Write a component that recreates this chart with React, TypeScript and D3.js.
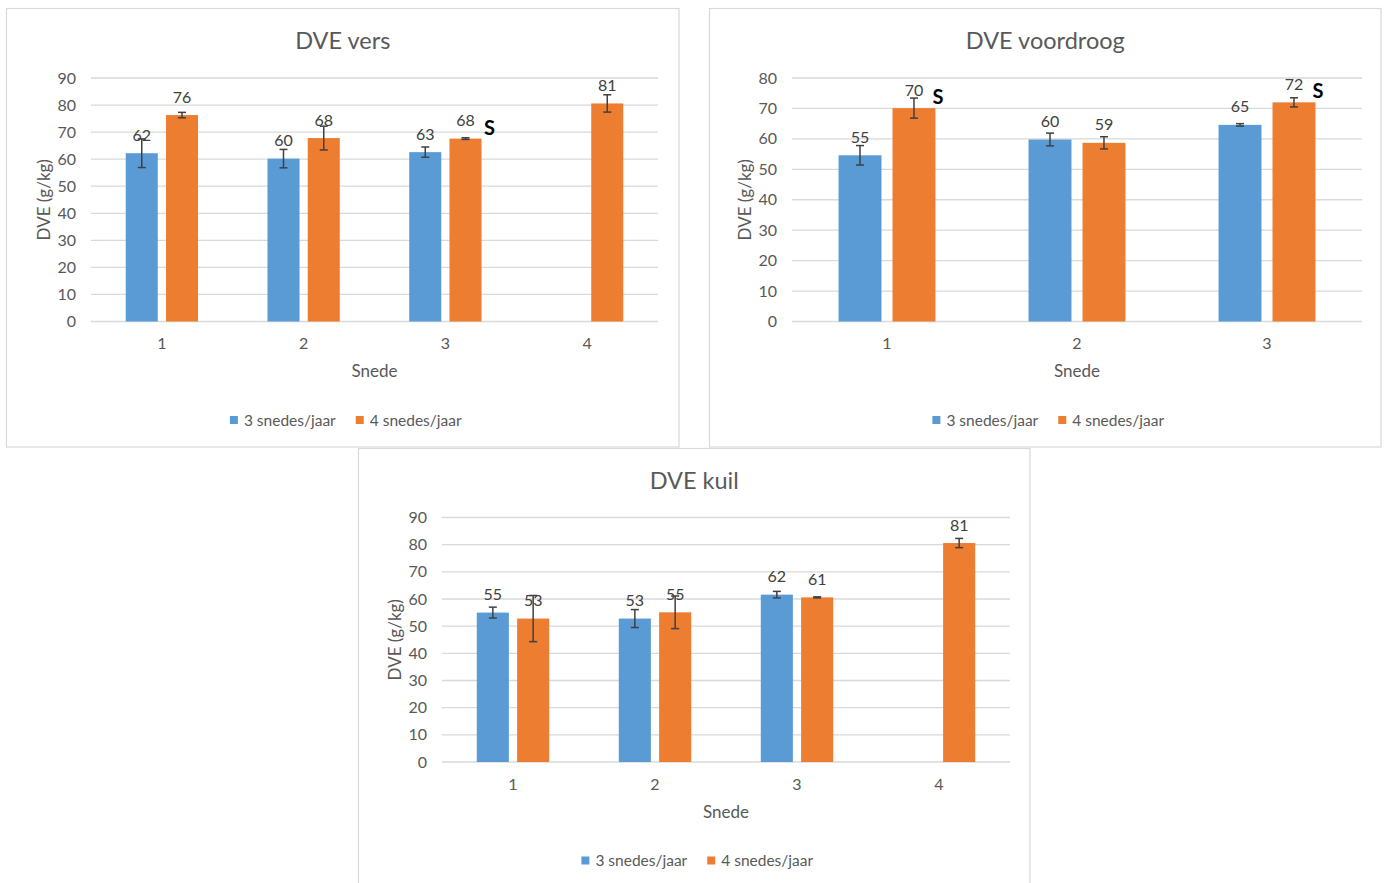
import { useEffect, useRef } from "react";
import * as d3 from "d3";

const BLUE   = "#5B9BD5";
const ORANGE = "#ED7D31";
const GRID   = "#D9D9D9";
const TICK   = "#595959";
const LABEL  = "#404040";
const FONT   = "Lato, 'Open Sans', sans-serif";

const snede4 = ["1", "2", "3", "4"];
const snede3 = ["1", "2", "3"];
const seriesNames = ["3 snedes/jaar", "4 snedes/jaar"];

const ticks90 = [0, 10, 20, 30, 40, 50, 60, 70, 80, 90];
const ticks80 = [0, 10, 20, 30, 40, 50, 60, 70, 80];

// DVE vers
const versDrie    = [62.2, 60.2, 62.6, null];
const versDrieErr = [5.3, 3.4, 1.9, null];
const versVier    = [76.3, 67.8, 67.6, 80.6];
const versVierErr = [1.0, 4.4, 0.3, 3.2];
const versSig     = [false, false, true, false];

// DVE voordroog
const voorDrie    = [54.6, 59.8, 64.6];
const voorDrieErr = [3.2, 2.1, 0.4];
const voorVier    = [70.1, 58.7, 72.0];
const voorVierErr = [3.3, 2.0, 1.5];
const voorSig     = [true, false, true];

// DVE kuil
const kuilDrie    = [55.0, 52.8, 61.6, null];
const kuilDrieErr = [2.0, 3.3, 1.2, null];
const kuilVier    = [52.8, 55.1, 60.6, 80.6];
const kuilVierErr = [8.5, 6.0, 0.2, 1.7];
const kuilSig     = [false, false, false, false];

interface PanelCfg {
  title: string;
  frame: [number, number, number, number]; // x0, y0, x1, y1
  plot: [number, number, number, number];  // x0, yTop, x1, yBottom
  cats: string[];
  ticks: number[];
  drie: (number | null)[];
  drieErr: (number | null)[];
  vier: (number | null)[];
  vierErr: (number | null)[];
  sig: boolean[];
}

const panels: PanelCfg[] = [
  {
    title: "DVE vers", frame: [6.5, 8.5, 679, 447], plot: [91, 78, 658, 321.5],
    cats: snede4, ticks: ticks90,
    drie: versDrie, drieErr: versDrieErr, vier: versVier, vierErr: versVierErr, sig: versSig,
  },
  {
    title: "DVE voordroog", frame: [709.5, 8.5, 1381, 447], plot: [792, 78, 1362, 321.5],
    cats: snede3, ticks: ticks80,
    drie: voorDrie, drieErr: voorDrieErr, vier: voorVier, vierErr: voorVierErr, sig: voorSig,
  },
  {
    title: "DVE kuil", frame: [358.5, 448.5, 1030, 900], plot: [442, 517.5, 1010, 762],
    cats: snede4, ticks: ticks90,
    drie: kuilDrie, drieErr: kuilDrieErr, vier: kuilVier, vierErr: kuilVierErr, sig: kuilSig,
  },
];

export default function App() {
  const svgRef = useRef<SVGSVGElement>(null);

  useEffect(() => {
    if (!svgRef.current) return;
    const svg = d3.select(svgRef.current);
    svg.selectAll("*").remove();

    const renderPanel = (cfg: PanelCfg) => {
      const [fx0, fy0, fx1, fy1] = cfg.frame;
      const [px0, pyT, px1, pyB] = cfg.plot;
      const g = svg.append("g");

      g.append("rect")
        .attr("x", fx0).attr("y", fy0).attr("width", fx1 - fx0).attr("height", fy1 - fy0)
        .attr("fill", "#fff").attr("stroke", GRID).attr("stroke-width", 1.2);

      const x = d3.scaleBand().domain(cfg.cats).range([px0, px1]);
      const y = d3.scaleLinear().domain([0, d3.max(cfg.ticks)!]).range([pyB, pyT]);
      const bw = x.bandwidth();
      const barW = bw * 0.226, gap = bw * 0.058;

      // Title
      g.append("text")
        .attr("x", (fx0 + fx1) / 2).attr("y", fy0 + 31)
        .attr("text-anchor", "middle").attr("dominant-baseline", "central")
        .attr("font-size", 23.5).attr("fill", TICK).text(cfg.title);

      // Grid + y ticks
      for (const t of cfg.ticks) {
        g.append("line")
          .attr("x1", px0).attr("x2", px1).attr("y1", y(t)).attr("y2", y(t))
          .attr("stroke", GRID).attr("stroke-width", 1.3);
        g.append("text")
          .attr("x", px0 - 15).attr("y", y(t) - 1)
          .attr("text-anchor", "end").attr("dominant-baseline", "central")
          .attr("font-size", 16).attr("fill", TICK).text(t);
      }

      // x ticks
      for (const c of cfg.cats) {
        g.append("text")
          .attr("x", x(c)! + bw / 2).attr("y", pyB + 21)
          .attr("text-anchor", "middle").attr("dominant-baseline", "central")
          .attr("font-size", 16).attr("fill", TICK).text(c);
      }

      // Axis titles
      g.append("text")
        .attr("x", (px0 + px1) / 2).attr("y", pyB + 49)
        .attr("text-anchor", "middle").attr("dominant-baseline", "central")
        .attr("font-size", 17).attr("fill", TICK).text("Snede");
      const ytx = px0 - 48, yty = (pyT + pyB) / 2;
      g.append("text")
        .attr("transform", `translate(${ytx},${yty}) rotate(-90)`)
        .attr("text-anchor", "middle").attr("dominant-baseline", "central")
        .attr("font-size", 17).attr("fill", TICK).text("DVE (g/kg)");

      // Bars
      const series = [
        { vals: cfg.drie, errs: cfg.drieErr, color: BLUE, off: -(barW + gap) / 2, sig: null as boolean[] | null },
        { vals: cfg.vier, errs: cfg.vierErr, color: ORANGE, off: (barW + gap) / 2, sig: cfg.sig },
      ];
      for (const s of series) {
        s.vals.forEach((v, i) => {
          if (v == null) return;
          const cx = x(cfg.cats[i])! + bw / 2 + s.off;
          g.append("rect")
            .attr("x", cx - barW / 2).attr("y", y(v))
            .attr("width", barW).attr("height", y(0) - y(v))
            .attr("fill", s.color);
        });
      }
      for (const s of series) {
        s.vals.forEach((v, i) => {
          if (v == null) return;
          const cx = x(cfg.cats[i])! + bw / 2 + s.off;
          const e = s.errs[i] ?? 0;
          const eg = g.append("g").attr("stroke", LABEL).attr("stroke-width", 1.5);
          eg.append("line").attr("x1", cx).attr("x2", cx).attr("y1", y(v - e)).attr("y2", y(v + e));
          eg.append("line").attr("x1", cx - 4).attr("x2", cx + 4).attr("y1", y(v - e)).attr("y2", y(v - e));
          eg.append("line").attr("x1", cx - 4).attr("x2", cx + 4).attr("y1", y(v + e)).attr("y2", y(v + e));
          g.append("text")
            .attr("x", cx).attr("y", y(v) - 19)
            .attr("text-anchor", "middle").attr("dominant-baseline", "central")
            .attr("font-size", 16).attr("fill", LABEL).text(Math.round(v));
          if (s.sig && s.sig[i]) {
            g.append("text")
              .attr("x", cx + 24).attr("y", y(v) - 12)
              .attr("text-anchor", "middle").attr("dominant-baseline", "central")
              .attr("font-size", 20).attr("font-weight", 700).attr("fill", "#000").text("S");
          }
        });
      }

      // Legend
      const legY = pyB + 98;
      const leg = g.append("g");
      let lx = 0;
      seriesNames.forEach((name, i) => {
        leg.append("rect").attr("x", lx).attr("y", legY - 3.5).attr("width", 8).attr("height", 8)
          .attr("fill", i === 0 ? BLUE : ORANGE);
        const t = leg.append("text")
          .attr("x", lx + 14).attr("y", legY)
          .attr("dominant-baseline", "central")
          .attr("font-size", 15.5).attr("fill", TICK).text(name);
        const tw = (t.node() as SVGTextElement).getComputedTextLength();
        lx += 14 + tw + 20;
      });
      const legW = lx - 20;
      leg.attr("transform", `translate(${(fx0 + fx1) / 2 + 3 - legW / 2},0)`);
    };

    panels.forEach(renderPanel);
  }, []);

  return (
    <svg
      ref={svgRef}
      width={1386}
      height={883}
      style={{ position: "absolute", left: 0, top: 0, background: "#fff", fontFamily: FONT }}
    />
  );
}
